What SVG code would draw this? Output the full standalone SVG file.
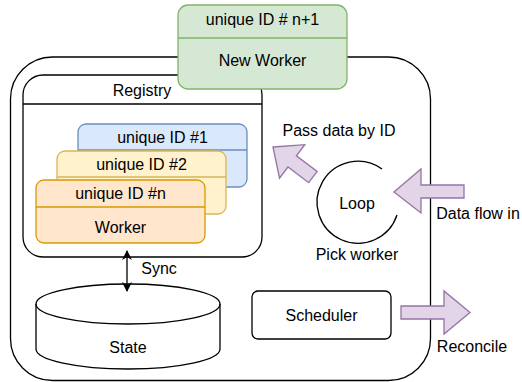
<svg xmlns="http://www.w3.org/2000/svg" width="522" height="382" viewBox="0 0 522 382">
<style>
text{font-family:"Liberation Sans",Arial,sans-serif;font-size:16px;fill:#000;text-anchor:middle}
.ln{fill:none;stroke:#000;stroke-width:1.3}
.box{fill:#fff;stroke:#000;stroke-width:1.3}
.blue{fill:#dae8fc;stroke:#6c8ebf;stroke-width:1.3}
.yel{fill:#fff2cc;stroke:#d6b656;stroke-width:1.3}
.org{fill:#ffe6cc;stroke:#d79b00;stroke-width:1.3}
.grn{fill:#d5e8d4;stroke:#82b366;stroke-width:1.3}
.pur{fill:#e1d5e7;stroke:#9673a6;stroke-width:1.3}
</style>
<defs>
<marker id="ah" viewBox="0 0 10 10" refX="9" refY="5" markerWidth="10" markerHeight="10" markerUnits="userSpaceOnUse" orient="auto-start-reverse">
<path d="M0,0 L10,5 L0,10 L3,5 Z" fill="#000"/>
</marker>
</defs>
<g id="container">
<rect x="10.5" y="57" width="420" height="323.5" rx="42" class="box"/>
</g>
<g id="registry">
<rect x="23" y="75" width="239" height="182" rx="20" class="box"/>
<line x1="23" y1="104" x2="262" y2="104" class="ln"/>
<text x="142" y="96">Registry</text>
</g>
<g id="worker1">
<rect x="78" y="124" width="169" height="63" rx="8" class="blue"/>
<line x1="78" y1="150" x2="247" y2="150" class="blue"/>
<text x="162.5" y="143">unique ID #1</text>
</g>
<g id="worker2">
<rect x="57" y="151" width="169" height="63" rx="8" class="yel"/>
<line x1="57" y1="177" x2="226" y2="177" class="yel"/>
<text x="141.5" y="170">unique ID #2</text>
</g>
<g id="workern">
<rect x="36" y="180" width="169" height="63" rx="8" class="org"/>
<line x1="36" y1="207" x2="205" y2="207" class="org"/>
<text x="120.5" y="199">unique ID #n</text>
<text x="120.5" y="232.5">Worker</text>
</g>
<g id="newworker">
<rect x="178" y="5" width="169" height="84" rx="10" class="grn"/>
<line x1="178" y1="38" x2="347" y2="38" class="grn"/>
<text x="262.5" y="25">unique ID # n+1</text>
<text x="262.5" y="66">New Worker</text>
</g>
<g id="state">
<path d="M36,304 A92,20 0 0 1 220,304 L220,349 A92,20 0 0 1 36,349 Z" class="box"/>
<path d="M36,304 A92,20 0 0 0 220,304" class="ln"/>
<text x="128" y="353">State</text>
</g>
<g id="scheduler">
<rect x="252" y="291" width="139" height="48" rx="6" class="box"/>
<text x="321.5" y="320.5">Scheduler</text>
</g>
<g id="loop">
<path d="M382,169 A41,41 0 1 0 397,215" class="ln"/>
<text x="357" y="208.5">Loop</text>
<text x="357" y="259.5">Pick worker</text>
</g>
<g id="connectors">
<line x1="127" y1="251" x2="127" y2="291" class="ln" marker-start="url(#ah)" marker-end="url(#ah)"/>
<text x="159" y="274">Sync</text>
<path transform="translate(273,147) rotate(37)" d="M0,0 L24,-21 L24,-7 L50,-7 L50,7 L24,7 L24,21 Z" class="pur"/>
<text x="339" y="136">Pass data by ID</text>
<path d="M394,192 L421,169 L421,185 L464,185 L464,198 L421,198 L421,213 Z" class="pur"/>
<text x="478" y="219">Data flow in</text>
<path d="M401,306 L444,306 L444,291 L470,312.5 L444,334 L444,319 L401,319 Z" class="pur"/>
<text x="472" y="351.5">Reconcile</text>
</g>
</svg>
